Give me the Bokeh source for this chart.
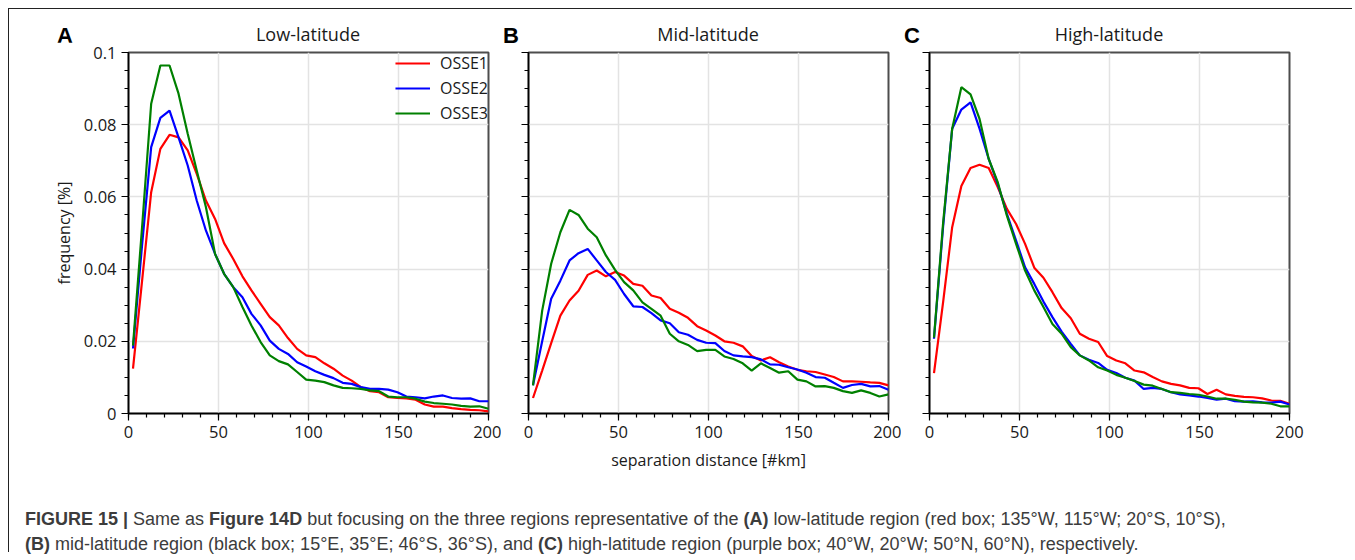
from bokeh.plotting import figure
from bokeh.models import (Range1d, FixedTicker, Legend, LegendItem, Div,
                          CustomLabelingPolicy)
from bokeh.layouts import row, column
from bokeh.embed import file_html
from bokeh.resources import INLINE

# ---------------- data ----------------
x_km = [2.5, 7.6, 12.6, 17.7, 22.8, 27.8, 32.9, 37.9, 43.0, 48.1,
        53.1, 58.2, 63.3, 68.3, 73.4, 78.5, 83.5, 88.6, 93.7, 98.7,
        103.8, 108.8, 113.9, 119.0, 124.0, 129.1, 134.2, 139.2, 144.3, 149.4,
        154.4, 159.5, 164.6, 169.6, 174.7, 179.7, 184.8, 189.9, 194.9, 200.0]

low_osse1 = [0.0124, 0.037, 0.0613, 0.0733, 0.0772, 0.0765, 0.0729, 0.0664, 0.059, 0.0539,
             0.0472, 0.0428, 0.038, 0.0341, 0.0304, 0.0267, 0.0244, 0.0209, 0.0179, 0.0161,
             0.0156, 0.0139, 0.0124, 0.0105, 0.0091, 0.0073, 0.0062, 0.0059, 0.0045, 0.0043,
             0.0042, 0.0038, 0.0025, 0.0019, 0.0019, 0.0015, 0.0012, 0.0010, 0.0009, 0.0006]
low_osse2 = [0.018, 0.047, 0.0738, 0.0819, 0.0839, 0.0765, 0.0687, 0.059, 0.0507, 0.0442,
             0.0387, 0.035, 0.0322, 0.0276, 0.0244, 0.0202, 0.0179, 0.0165, 0.0142, 0.013,
             0.0117, 0.0107, 0.0098, 0.0085, 0.0082, 0.0073, 0.0068, 0.0068, 0.0066, 0.0059,
             0.0047, 0.0045, 0.0042, 0.0047, 0.005, 0.0043, 0.0041, 0.0042, 0.0034, 0.0034]
low_osse3 = [0.0188, 0.052, 0.0858, 0.0964, 0.0964, 0.0886, 0.0775, 0.0673, 0.0572, 0.0442,
             0.0387, 0.035, 0.0295, 0.0244, 0.0198, 0.0161, 0.0145, 0.0136, 0.0115, 0.0094,
             0.0091, 0.0087, 0.0078, 0.0071, 0.007, 0.0068, 0.0064, 0.0062, 0.0047, 0.0045,
             0.0045, 0.0041, 0.0033, 0.0029, 0.0027, 0.0025, 0.0021, 0.0019, 0.002, 0.0013]

mid_osse1 = [0.0043, 0.0119, 0.0195, 0.0271, 0.0313, 0.0340, 0.0384, 0.0396, 0.038, 0.0392,
             0.0382, 0.0359, 0.0354, 0.0327, 0.032, 0.029, 0.0279, 0.0265, 0.0242, 0.023,
             0.0216, 0.02, 0.0196, 0.0186, 0.0159, 0.0147, 0.0156, 0.0142, 0.013, 0.0121,
             0.0117, 0.0115, 0.0108, 0.0101, 0.0089, 0.0089, 0.0088, 0.0086, 0.0085, 0.0078]
mid_osse2 = [0.0078, 0.020, 0.0318, 0.0368, 0.0424, 0.0444, 0.0456, 0.0424, 0.0392, 0.037,
             0.0331, 0.0297, 0.0295, 0.0278, 0.0258, 0.025, 0.0225, 0.0218, 0.0204, 0.0196,
             0.0195, 0.0173, 0.0161, 0.0158, 0.0156, 0.015, 0.0136, 0.0135, 0.0128, 0.0122,
             0.0113, 0.0101, 0.0099, 0.0085, 0.0071, 0.0079, 0.0082, 0.0075, 0.0076, 0.0066]
mid_osse3 = [0.0078, 0.0285, 0.0415, 0.0502, 0.0564, 0.055, 0.0512, 0.0488, 0.0438, 0.0398,
             0.0364, 0.0341, 0.0308, 0.029, 0.0271, 0.0221, 0.02, 0.019, 0.0173, 0.0176,
             0.0176, 0.0158, 0.0151, 0.0139, 0.0119, 0.0139, 0.0126, 0.0113, 0.0117, 0.0094,
             0.0089, 0.0075, 0.0076, 0.0071, 0.0062, 0.0057, 0.0064, 0.0057, 0.0047, 0.0053]

high_osse1 = [0.0112, 0.031, 0.0516, 0.063, 0.068, 0.0689, 0.068, 0.0627, 0.0567, 0.0525,
              0.047, 0.0404, 0.0376, 0.0336, 0.0292, 0.0264, 0.0221, 0.0207, 0.0198, 0.0159,
              0.0147, 0.0139, 0.0119, 0.0114, 0.0101, 0.0089, 0.0082, 0.0078, 0.0071, 0.007,
              0.0054, 0.0066, 0.0053, 0.0049, 0.0046, 0.0045, 0.0042, 0.0036, 0.0035, 0.0027]
high_osse2 = [0.0207, 0.052, 0.0789, 0.0842, 0.0862, 0.0789, 0.0705, 0.0636, 0.0553, 0.0479,
              0.0405, 0.0359, 0.031, 0.0267, 0.0227, 0.0193, 0.0161, 0.0149, 0.014, 0.0121,
              0.0112, 0.0099, 0.0091, 0.0068, 0.0071, 0.0068, 0.0059, 0.0053, 0.005, 0.0047,
              0.0043, 0.0038, 0.0041, 0.0034, 0.0033, 0.0034, 0.0031, 0.003, 0.0033, 0.0025]
high_osse3 = [0.021, 0.053, 0.0789, 0.0904, 0.0884, 0.0816, 0.0705, 0.0641, 0.0548, 0.047,
              0.0396, 0.0341, 0.0295, 0.0248, 0.0221, 0.0184, 0.0161, 0.0147, 0.0128, 0.0119,
              0.0107, 0.0099, 0.009, 0.008, 0.0077, 0.0068, 0.0059, 0.0057, 0.0054, 0.0052,
              0.0047, 0.0041, 0.0041, 0.0038, 0.0033, 0.0031, 0.003, 0.0027, 0.002, 0.002]

series_names = ["OSSE1", "OSSE2", "OSSE3"]
series_colors = ["#ff0000", "#0000ff", "#008000"]
panel_titles = ["Low-latitude", "Mid-latitude", "High-latitude"]
panel_letters = ["A", "B", "C"]
x_ticks = [0, 50, 100, 150, 200]
y_ticks = [0, 0.02, 0.04, 0.06, 0.08, 0.1]
y_tick_labels = ["0", "0.02", "0.04", "0.06", "0.08", "0.1"]
x_label = "separation distance [#km]"
y_label = "frequency [%]"

FONT = "Open Sans"

hide_labels = CustomLabelingPolicy(code="""
try { for (const i of Array.from(indices)) { indices.unset(i) } } catch (e) {}
return indices
""")


def make_panel(idx, ys, left, right, top):
    p = figure(frame_width=360, frame_height=361,
               min_border_left=left, min_border_right=right,
               min_border_top=top, min_border_bottom=60,
               x_range=Range1d(0, 200), y_range=Range1d(0, 0.1),
               output_backend="svg", toolbar_location=None)
    p.background_fill_color = "white"
    p.border_fill_color = "white"
    p.outline_line_color = "#4d4d4d"
    p.outline_line_width = 2

    renderers = []
    for y, c in zip(ys, series_colors):
        r = p.line(x_km, y, line_color=c, line_width=2.2)
        renderers.append(r)

    p.xaxis.ticker = FixedTicker(ticks=x_ticks, minor_ticks=list(range(0, 201, 10)))
    p.yaxis.ticker = FixedTicker(ticks=y_ticks,
                                 minor_ticks=[round(i * 0.005, 4) for i in range(21)])
    for ax in (p.xaxis[0], p.yaxis[0]):
        ax.axis_line_color = "black"
        ax.axis_line_width = 1.5
        ax.major_tick_line_color = "black"
        ax.minor_tick_line_color = "black"
        ax.major_tick_line_width = 1.2
        ax.minor_tick_line_width = 1.2
        ax.major_tick_in = 0
        ax.major_tick_out = 7
        ax.minor_tick_in = 0
        ax.minor_tick_out = 4
        ax.major_label_text_font = FONT
        ax.major_label_text_font_size = "16.5px"
        ax.major_label_text_color = "#1a1a1a"
        ax.axis_label_text_font = FONT
        ax.axis_label_text_font_size = "16px"
        ax.axis_label_text_font_style = "normal"
        ax.axis_label_text_color = "#1a1a1a"
    p.yaxis.major_label_overrides = {t: l for t, l in zip(y_ticks, y_tick_labels)}
    if idx == 0:
        p.yaxis.axis_label = y_label
        p.yaxis.axis_label_standoff = 6
    else:
        # ticks only, no tick labels (as in the reference panels B and C)
        p.yaxis.major_label_policy = hide_labels
        p.yaxis.major_label_text_font_size = "0px"
        p.yaxis.major_label_standoff = 0
    if idx == 1:
        p.xaxis.axis_label = x_label
        p.xaxis.axis_label_standoff = 8

    p.grid.grid_line_color = "#e3e3e3"
    p.grid.grid_line_width = 1.5

    if idx == 0:
        legend = Legend(items=[LegendItem(label=n, renderers=[r])
                               for n, r in zip(series_names, renderers)],
                        location="top_right", border_line_color=None,
                        background_fill_alpha=0, glyph_width=35, glyph_height=20,
                        label_height=20, spacing=3, padding=5, margin=0,
                        label_standoff=10, label_text_font=FONT,
                        label_text_font_size="16px", label_text_color="#1a1a1a")
        p.add_layout(legend)
    return p


def make_header(idx, width, height, letter_left, title_center):
    html = (
        f"<div style=\"position:relative;width:{width}px;height:{height}px;\">"
        f"<span style=\"position:absolute;left:{letter_left}px;top:15px;line-height:24px;"
        f"font-family:'Liberation Sans',Arial,sans-serif;font-weight:bold;"
        f"font-size:22px;color:#000;\">{panel_letters[idx]}</span>"
        f"<span style=\"position:absolute;left:{title_center}px;top:13px;line-height:24px;"
        f"transform:translateX(-50%);white-space:nowrap;font-family:'Open Sans',sans-serif;"
        f"font-size:18px;color:#1a1a1a;\">{panel_titles[idx]}</span></div>"
    )
    return Div(text=html, width=width, height=height, margin=0)


pA = make_panel(0, [low_osse1, low_osse2, low_osse3], 119, 13, 10)
pB = make_panel(1, [mid_osse1, mid_osse2, mid_osse3], 27, 13, 7)
pC = make_panel(2, [high_osse1, high_osse2, high_osse3], 28, 63, 7)

hA = make_header(0, 492, 33, 48, 299)
hB = make_header(1, 400, 36, 2, 207)
hC = make_header(2, 451, 36, 3, 208)

caption_html = (
    "<div style=\"font-family:'Liberation Sans',Arial,sans-serif;font-size:18px;"
    "color:#3c3c3c;padding-left:16px;white-space:nowrap;\">"
    "<div style=\"line-height:24px;margin-top:34px;\"><b>FIGURE 15 |</b> Same as "
    "<b>Figure 14D</b> but focusing on the three regions representative of the "
    "<b>(A)</b> low-latitude region (red box; 135°W, 115°W; 20°S, 10°S),</div>"
    "<div style=\"line-height:16px;margin-top:5px;\"><b>(B)</b> mid-latitude region "
    "(black box; 15°E, 35°E; 46°S, 36°S), and <b>(C)</b> high-latitude region "
    "(purple box; 40°W, 20°W; 50°N, 60°N), respectively.</div></div>"
)
caption = Div(text=caption_html, width=1343, height=79, margin=0)

panels = row(column(hA, pA), column(hB, pB), column(hC, pC))
layout = column(panels, caption, margin=(8, 0, 0, 8),
                styles={"border-left": "1px solid #222222",
                        "border-top": "1px solid #222222"})

open("out.html", "w").write(file_html(layout, INLINE))
